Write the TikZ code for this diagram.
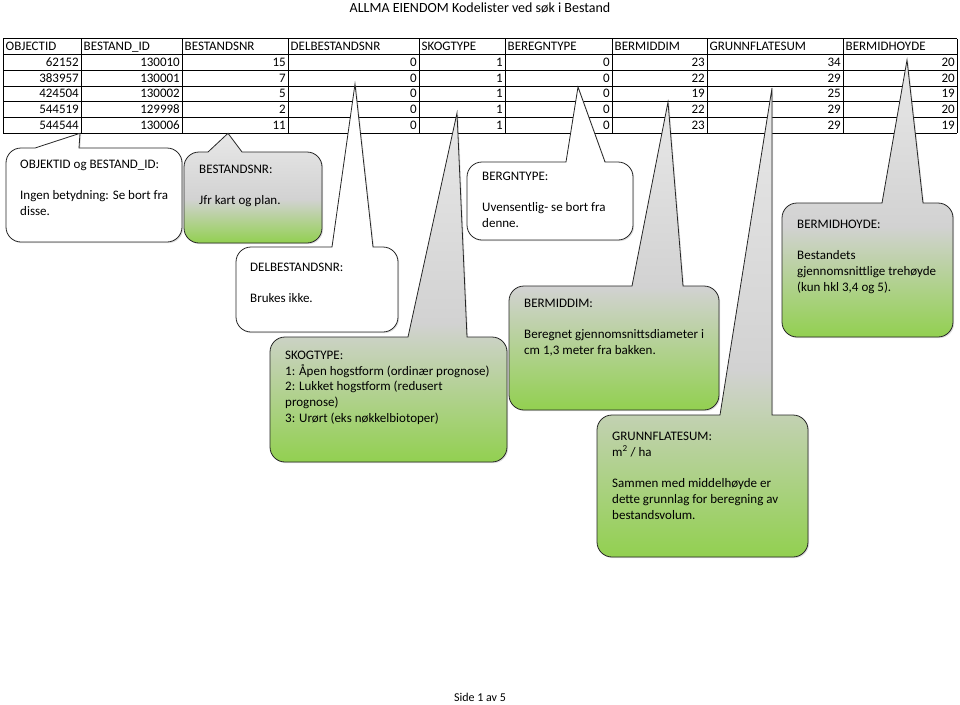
\documentclass[tikz,border=0pt]{standalone}
\usepackage{fontspec}
\setmainfont{Carlito}
\usetikzlibrary{shadows}

\definecolor{bubgreen}{HTML}{92D050}
\definecolor{bubgray}{HTML}{D2D2D2}
\definecolor{bubtop}{HTML}{E8E8E8}
\pgfdeclareverticalshading{bubblefill}{100bp}{color(0bp)=(bubgreen); color(25bp)=(bubgreen); color(45bp)=(bubgray); color(75bp)=(bubtop); color(100bp)=(bubtop)}

\newcommand{\callfont}{\fontsize{13}{15.8}\selectfont}

% #1 style, #2 left, #3 top, #4 right, #5 bottom, #6/#7 base of the pointer, #8/#9 tip
\newcommand{\speechbox}[9]{%
  \path[#1] (#8,#9) -- (#7,#3) -- ({#4-15},#3) .. controls ({#4-6.7},#3) and (#4,{#3+6.7}) .. (#4,{#3+15})
    -- (#4,{#5-15}) .. controls (#4,{#5-6.7}) and ({#4-6.7},#5) .. ({#4-15},#5)
    -- ({#2+15},#5) .. controls ({#2+6.7},#5) and (#2,{#5-6.7}) .. (#2,{#5-15})
    -- (#2,{#3+15}) .. controls (#2,{#3+6.7}) and ({#2+6.7},#3) .. ({#2+15},#3)
    -- (#6,#3) -- cycle;}

\tikzset{
  bubble/.style={draw=black!85, line width=0.8pt,
    drop shadow={opacity=0.25, shadow xshift=1.2pt, shadow yshift=-1.2pt}},
  plainbubble/.style={bubble, fill=white},
  greenbubble/.style={bubble, shading=bubblefill},
  bubbletext/.style={anchor=north west, inner sep=0pt, align=left, font=\callfont},
  cell/.style={inner sep=0pt, font=\callfont},
}

\begin{document}
\begin{tikzpicture}[x=1pt, y=-1pt]
	\useasboundingbox (0,0) rectangle (960,704);

	\node[anchor=base, font=\fontsize{14}{17}\selectfont] (title) at (480,12.5) {ALLMA EIENDOM Kodelister ved søk i Bestand};

	% table
	\foreach \y in {38.5,54.3,70.1,85.9,101.7,117.5,133.3}
		\draw[line width=0.8pt] (3,\y) -- (957,\y);
	\foreach \x in {3,81,182,288,419,505,612,707,843,957}
		\draw[line width=0.8pt] (\x,38.5) -- (\x,133.3);

	\foreach \h [count=\c] in {OBJECTID,BESTAND\_ID,BESTANDSNR,DELBESTANDSNR,SKOGTYPE,BEREGNTYPE,BERMIDDIM,GRUNNFLATESUM,BERMIDHOYDE}{
		\pgfmathsetmacro\xl{{3,81,182,288,419,505,612,707,843}[\c-1]}
		\node[cell, anchor=base west] (h-\c) at (\xl+2.5,50.4) {\h};
	}
	\foreach \vals [count=\r] in {{62152,130010,15,0,1,0,23,34,20},{383957,130001,7,0,1,0,22,29,20},{424504,130002,5,0,1,0,19,25,19},{544519,129998,2,0,1,0,22,29,20},{544544,130006,11,0,1,0,23,29,19}}{
		\foreach \v [count=\c] in \vals {
			\pgfmathsetmacro\xr{{81,182,288,419,505,612,707,843,957}[\c-1]}
			\node[cell, anchor=base east] (c-\r-\c) at (\xr-2,50.4+15.8*\r) {\v};
		}
	}

	% callouts
	\speechbox{plainbubble}{6}{148}{182}{242}{35}{79}{80}{133.3}
	\speechbox{greenbubble}{184}{152}{322}{243}{208}{242}{228}{133.3}
	\speechbox{plainbubble}{236}{247}{398}{332}{332}{373}{355}{84}
	\speechbox{greenbubble}{270}{337}{507}{462}{408}{467}{457}{113}
	\speechbox{plainbubble}{467}{162}{633}{240}{566}{605}{578}{87}
	\speechbox{greenbubble}{509}{286}{719}{410}{632}{683}{668}{102}
	\speechbox{greenbubble}{597}{415}{808}{557}{720}{772}{772}{88}
	\speechbox{greenbubble}{782}{203}{953}{337}{882}{923}{907}{60}

	\node[bubbletext] (objtext) at (20,157) {\strut OBJEKTID og BESTAND\_ID:\\[15.8pt]Ingen betydning: Se bort fra\\disse.};
	\node[bubbletext] (nrtext) at (199,162) {\strut BESTANDSNR:\\[15.8pt]Jfr kart og plan.};
	\node[bubbletext] (deltext) at (250,260) {\strut DELBESTANDSNR:\\[15.8pt]Brukes ikke.};
	\node[bubbletext] (skogtext) at (285,348) {\strut SKOGTYPE:\\1: Åpen hogstform (ordinær prognose)\\2: Lukket hogstform (redusert\\prognose)\\3: Urørt (eks nøkkelbiotoper)};
	\node[bubbletext] (bergtext) at (482,169) {\strut BERGNTYPE:\\[15.8pt]Uvensentlig- se bort fra\\denne.};
	\node[bubbletext] (dimtext) at (524,296) {\strut BERMIDDIM:\\[15.8pt]Beregnet gjennomsnittsdiameter i\\cm 1,3 meter fra bakken.};
	\node[bubbletext] (grunntext) at (612,429) {\strut GRUNNFLATESUM:\\m\textsuperscript{2} / ha\\[15.8pt]Sammen med middelhøyde er\\dette grunnlag for beregning av\\bestandsvolum.};
	\node[bubbletext] (hoydetext) at (797,217) {\strut BERMIDHOYDE:\\[15.8pt]Bestandets\\gjennomsnittlige trehøyde\\(kun hkl 3,4 og 5).};

	\node[anchor=base, font=\fontsize{12}{14}\selectfont] (footer) at (480,701) {Side 1 av 5};
\end{tikzpicture}
\end{document}
